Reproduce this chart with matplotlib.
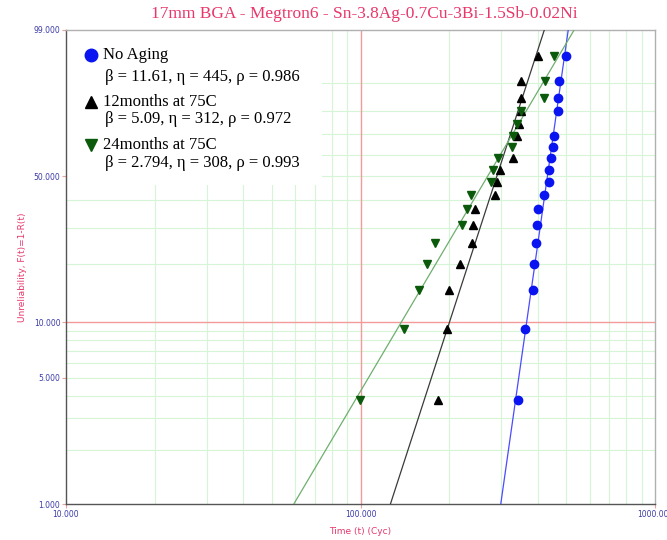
import numpy as np
import matplotlib
matplotlib.use("Agg")
import matplotlib.pyplot as plt
from matplotlib.patches import Rectangle

# %% Data
title = "17mm BGA - Megtron6 - Sn-3.8Ag-0.7Cu-3Bi-1.5Sb-0.02Ni"

# No Aging
NoAge_t = [342.6, 362.1, 385.2, 387.3, 393.4, 398.3, 399.6, 418.8, 435.5, 437.6,
           443.5, 449.4, 452.9, 467.3, 468.4, 470.9, 498.6]
NoAge_F = [3.8, 9.2, 14.7, 20.1, 25.5, 31.0, 36.4, 41.8, 47.3, 52.7,
           58.2, 63.6, 69.0, 79.9, 85.3, 90.8, 96.2]
# 12months at 75C
M12_t = [183.4, 196.7, 200.3, 218.3, 238.6, 241.6, 244.2, 286.9, 290.1, 297.7,
         328.7, 339.2, 344.5, 349.9, 349.9, 350.8, 400.5]
M12_F = [3.8, 9.2, 14.7, 20.1, 25.5, 31.0, 36.4, 41.8, 47.3, 52.7,
         58.2, 69.0, 74.5, 79.9, 85.3, 90.8, 96.2]
# 24months at 75C
M24_t = [99.8, 140.0, 158.4, 167.8, 178.6, 221.1, 229.4, 237.3, 277.5, 281.2,
         293.8, 326.2, 329.5, 339.2, 350.8, 418.8, 422.2, 452.9]
M24_F = [3.8, 9.2, 14.7, 20.1, 25.5, 31.0, 36.4, 41.8, 47.3, 52.7,
         58.2, 63.6, 69.0, 74.5, 79.9, 85.3, 90.8, 96.2]

# fitted Weibull parameters (legend)
Labels = ["No Aging", "12months at 75C", "24months at 75C"]
Beta = [11.61, 5.09, 2.794]
Eta = [445, 312, 308]
Rho = ["0.986", "0.972", "0.993"]
Beta_txt = ["11.61", "5.09", "2.794"]

# grid positions
X_minor = [20, 30, 40, 50, 60, 70, 80, 90, 200, 300, 400, 500, 600, 700, 800, 900]
X_major = [100]
Y_minor = [2, 3, 4, 5, 6, 7, 8, 9, 20, 30, 40, 50, 60, 70, 80, 90]
Y_major = [10]
Y_ticks = [1, 5, 10, 50, 99]
X_ticks = [10, 100, 1000]

# %% Plot
TickBlue = "#3a3aa8"
Pink = "#e8376b"
GridGreen = "#d6f5d6"
GridRed = "#f49a9a"


def weib_fwd(p):
    p = np.clip(np.asarray(p, dtype=float), 1e-9, 100 - 1e-9)
    return np.log(-np.log(1 - p / 100.0))


def weib_inv(u):
    return 100.0 * (1 - np.exp(-np.exp(u)))


fig = plt.figure(figsize=(6.67, 5.4), dpi=100)
ax = fig.add_axes([66/667, 1-504/540, (655-66)/667, (504-29.7)/540])
ax.set_xscale("log")
ax.set_yscale("function", functions=(weib_fwd, weib_inv))
ax.set_xlim(10, 1000)
ax.set_ylim(1, 99)

for v in X_minor:
    ax.axvline(v, color=GridGreen, lw=0.8, zorder=1)
for v in X_major:
    ax.axvline(v, color=GridRed, lw=1.0, zorder=1.2)
for v in Y_minor:
    ax.axhline(v, color=GridGreen, lw=0.8, zorder=1)
for v in Y_major:
    ax.axhline(v, color=GridRed, lw=1.0, zorder=1.2)

# fit lines
t_line = np.logspace(1, 3, 400)
LineCols = ["#4b4bff", "#3a3a3a", "#6fae6f"]
for b, e, c in zip(Beta, Eta, LineCols):
    F_line = 100 * (1 - np.exp(-(t_line / e) ** b))
    ax.plot(t_line, F_line, color=c, lw=0.9, zorder=3)

ax.plot(M12_t, M12_F, ls="none", marker="^", ms=6, color="black", zorder=4)
ax.plot(M24_t, M24_F, ls="none", marker="v", ms=6, color="#0b5a0b", zorder=5)
ax.plot(NoAge_t, NoAge_F, ls="none", marker="o", ms=6, color="#0a14f0", zorder=5)

# ticks
ax.set_yticks(Y_ticks)
ax.set_yticklabels([f"{v:.3f}" for v in Y_ticks])
ax.set_xticks(X_ticks)
ax.set_xticklabels([f"{v:.3f}" for v in X_ticks])
ax.minorticks_off()
ax.tick_params(axis="both", labelsize=5.5, labelcolor=TickBlue, color="#f0a0a0",
               length=3, pad=1)
ax.set_xlabel("Time (t) (Cyc)", color=Pink, fontsize=6.5, labelpad=6)
ax.set_ylabel("Unreliability, F(t)=1-R(t)", color=Pink, fontsize=6.5, labelpad=5)

for s in ["left", "bottom"]:
    ax.spines[s].set_color("#555555")
    ax.spines[s].set_linewidth(1.0)
for s in ["top", "right"]:
    ax.spines[s].set_color("#b0b0b0")
    ax.spines[s].set_linewidth(1.0)

fig.text(364/667, 1-14/540, title, ha="center", va="center", color=Pink,
         fontsize=12.5, family="Liberation Serif")

# legend box
ax.add_patch(Rectangle((0, 0.673), 0.435, 0.327, transform=ax.transAxes,
                       facecolor="white", edgecolor="none", zorder=2.5))
Markers = ["o", "^", "v"]
MarkCols = ["#0a14f0", "black", "#0b5a0b"]
Rows = [(55, 76.5), (102, 118.5), (145, 163)]
for i in range(3):
    y1 = (504 - Rows[i][0]) / 474.3
    y2 = (504 - Rows[i][1]) / 474.3
    ax.plot([(90.5 - 66) / 589], [y1], marker=Markers[i], ms=9, color=MarkCols[i],
            transform=ax.transAxes, clip_on=False, zorder=6, ls="none")
    ax.text((103 - 66) / 589, y1, Labels[i], transform=ax.transAxes, va="center",
            ha="left", fontsize=12, family="Liberation Serif", zorder=6)
    ax.text((105 - 66) / 589, y2,
            f"\u03b2 = {Beta_txt[i]}, \u03b7 = {Eta[i]}, \u03c1 = {Rho[i]}",
            transform=ax.transAxes, va="center", ha="left", fontsize=12,
            family="Liberation Serif", zorder=6)

fig.savefig("out.png", dpi=100)
